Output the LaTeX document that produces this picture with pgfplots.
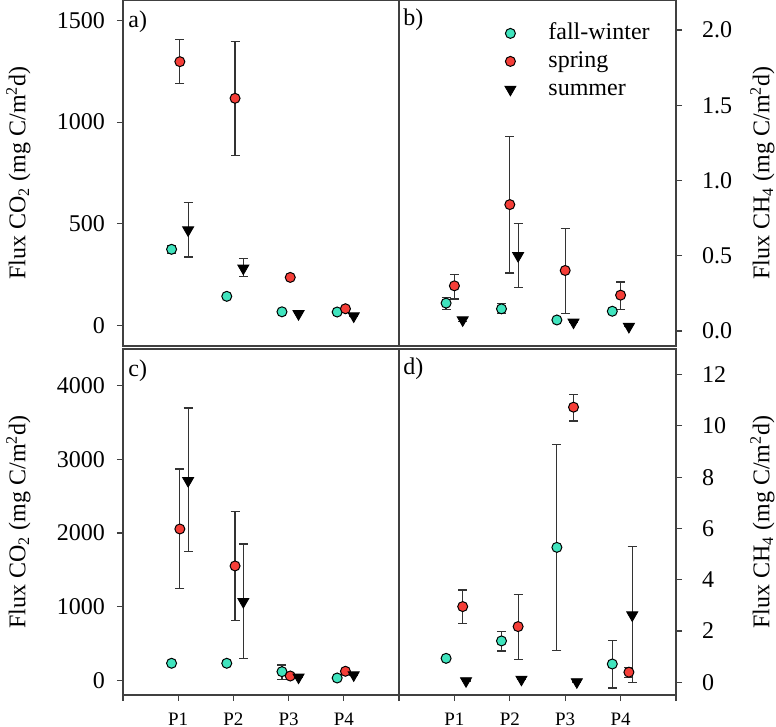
\documentclass[border=0pt]{standalone}
\usepackage{fontspec}
\setmainfont{Liberation Serif}
\usepackage{pgfplots}
\pgfplotsset{compat=1.18}

\definecolor{fallwinter}{RGB}{64,228,190}
\definecolor{springred}{RGB}{245,62,56}
\definecolor{framegray}{gray}{0.25}

\tikzset{panellabel/.style={anchor=north west, inner sep=0pt,
    font=\fontsize{12}{14}\selectfont}}

\pgfplotsset{
  panel/.style={
    scale only axis, height=173pt,
    xmin=0, xmax=5,
    axis line style={framegray, line width=0.6pt},
    tick align=outside, major tick length=3pt,
    every tick/.style={framegray, line width=0.6pt},
    tick label style={font=\fontsize{12}{14}\selectfont},
    /pgf/number format/assume math mode=true,
    /pgf/number format/1000 sep={},
    ylabel style={font=\fontsize{12}{14}\selectfont},
    clip=false,
  },
  leftpanel/.style={panel, width=138pt, ytick pos=left, xtick pos=bottom,
    ylabel={Flux CO\textsubscript{2} (mg C/m\textsuperscript{2}d)},
    ylabel style={at={(axis description cs:-0.379,0.5)}, anchor=center}},
  rightpanel/.style={panel, width=138.5pt, ytick pos=right, xtick pos=bottom,
    yticklabel pos=right,
    ylabel={Flux CH\textsubscript{4} (mg C/m\textsuperscript{2}d)},
    ylabel style={at={(axis description cs:1.312,0.5)}, anchor=center}},
  toppanel/.style={xtick=\empty},
  bottompanel/.style={xtick={0,...,5}, xticklabels={,P1,P2,P3,P4,},
    xticklabel style={font=\fontsize{9.5}{11}\selectfont}, xticklabel shift=2.5pt},
  ebars/.style={error bars/.cd, y dir=both, y explicit,
    error bar style={black!80, line width=0.6pt},
    error mark options={rotate=90, mark size=2.25pt, black!80, line width=0.6pt}},
  legimg/.style={legend image code/.code={
    \path[draw=none, fill=none] (0pt,0pt) -- (26pt,0pt);
    \draw[mark repeat=2, mark phase=2, ##1]
      plot coordinates {(0pt,0pt) (8pt,0pt) (16pt,0pt)};}},
  fw/.style={only marks, mark=*, mark size=2.5pt,
    mark options={fill=fallwinter, draw=black, line width=0.5pt}, legimg, ebars},
  sp/.style={only marks, mark=*, mark size=2.5pt,
    mark options={fill=springred, draw=black, line width=0.5pt}, legimg, ebars},
  su/.style={only marks, mark=triangle*, mark size=3.2pt,
    mark options={rotate=180, fill=black, draw=black, line width=0.4pt}, legimg, ebars},
}

\begin{document}
\begin{tikzpicture}
\path[use as bounding box] (0pt,0pt) rectangle (388pt,-363.5pt);

% a) CO2, first campaign
\begin{axis}[leftpanel, toppanel, at={(61.5pt,0pt)}, anchor=north west,
  ymin=-100, ymax=1600, ytick={0,500,1000,1500},
  yticklabel style={xshift=-2.5pt}]
\addplot[fw] coordinates {
  (0.88,375) += (0,20) -= (0,20)
  (1.88,144) += (0,0) -= (0,0)
  (2.88,68)  += (0,0) -= (0,0)
  (3.88,67)  += (0,0) -= (0,0)};
\addplot[sp] coordinates {
  (1.03,1297) += (0,110) -= (0,109)
  (2.03,1117) += (0,280) -= (0,282)
  (3.03,237)  += (0,0) -= (0,0)
  (4.03,83)   += (0,0) -= (0,0)};
\addplot[su] coordinates {
  (1.18,470) += (0,136) -= (0,133)
  (2.18,282) += (0,47) -= (0,40)
  (3.18,58)  += (0,0) -= (0,0)
  (4.18,47)  += (0,0) -= (0,0)};
\node[panellabel] at (rel axis cs:0,1) [xshift=2.5pt, yshift=-5pt] {a)};
\end{axis}

% b) CH4, first campaign
\begin{axis}[rightpanel, toppanel, at={(199.5pt,0pt)}, anchor=north west,
  ymin=-0.1, ymax=2.2, ytick={0,0.5,...,2.0},
  yticklabel style={xshift=6.5pt, /pgf/number format/.cd, fixed, fixed zerofill, precision=1},
  legend style={draw=none, fill=none, at={(rel axis cs:0.343,1)}, anchor=north west,
    yshift=-9.5pt, font=\fontsize{12}{14}\selectfont, inner sep=0pt,
    nodes={inner sep=1pt, text height=9pt, text depth=3pt}},
  legend cell align=left]
\addplot[fw] coordinates {
  (0.85,0.185) += (0,0.04) -= (0,0.045)
  (1.85,0.147) += (0,0.033) -= (0,0.033)
  (2.85,0.073) += (0,0) -= (0,0)
  (3.85,0.131) += (0,0) -= (0,0)};
\addplot[sp] coordinates {
  (1.00,0.30)  += (0,0.075) -= (0,0.087)
  (2.00,0.84)  += (0,0.455) -= (0,0.455)
  (3.00,0.402) += (0,0.278) -= (0,0.287)
  (4.00,0.238) += (0,0.087) -= (0,0.093)};
\addplot[su] coordinates {
  (1.15,0.073) += (0,0.01) -= (0,0.01)
  (2.15,0.50)  += (0,0.215) -= (0,0.211)
  (3.15,0.058) += (0,0) -= (0,0)
  (4.15,0.029) += (0,0) -= (0,0)};
\legend{fall-winter, spring, summer}
\node[panellabel] at (rel axis cs:0,1) [xshift=2pt, yshift=-4pt] {b)};
\end{axis}

% c) CO2, second campaign
\begin{axis}[leftpanel, bottompanel, at={(61.5pt,-174.5pt)}, anchor=north west,
  ymin=-200, ymax=4500, ytick={0,1000,2000,3000,4000},
  yticklabel style={xshift=-2.5pt}]
\addplot[fw] coordinates {
  (0.88,231) += (0,0) -= (0,0)
  (1.88,231) += (0,30) -= (0,30)
  (2.88,117) += (0,91) -= (0,103)
  (3.88,31)  += (0,0) -= (0,0)};
\addplot[sp] coordinates {
  (1.03,2055) += (0,815) -= (0,811)
  (2.03,1553) += (0,737) -= (0,738)
  (3.03,58)   += (0,0) -= (0,0)
  (4.03,122)  += (0,0) -= (0,0)};
\addplot[su] coordinates {
  (1.18,2711) += (0,988) -= (0,959)
  (2.18,1068) += (0,783) -= (0,775)
  (3.18,41)   += (0,0) -= (0,0)
  (4.18,72)   += (0,0) -= (0,0)};
\node[panellabel] at (rel axis cs:0,1) [xshift=2.5pt, yshift=-5pt] {c)};
\end{axis}

% d) CH4, second campaign
\begin{axis}[rightpanel, bottompanel, at={(199.5pt,-174.5pt)}, anchor=north west,
  ymin=-0.5, ymax=13, ytick={0,2,...,12},
  yticklabel style={xshift=6.5pt}]
\addplot[fw] coordinates {
  (0.85,0.93) += (0,0) -= (0,0)
  (1.85,1.61) += (0,0.36) -= (0,0.39)
  (2.85,5.26) += (0,4.01) -= (0,4.03)
  (3.85,0.71) += (0,0.91) -= (0,0.94)};
\addplot[sp] coordinates {
  (1.15,2.95)  += (0,0.65) -= (0,0.67)
  (2.15,2.17)  += (0,1.24) -= (0,1.28)
  (3.15,10.73) += (0,0.50) -= (0,0.54)
  (4.15,0.39)  += (0,0.19) -= (0,0.20)};
\addplot[su] coordinates {
  (1.21,0.05) += (0,0) -= (0,0)
  (2.21,0.11) += (0,0) -= (0,0)
  (3.21,0.01) += (0,0) -= (0,0)
  (4.21,2.62) += (0,2.66) -= (0,2.62)};
\node[panellabel] at (rel axis cs:0,1) [xshift=2pt, yshift=-4pt] {d)};
\end{axis}
\end{tikzpicture}
\end{document}
